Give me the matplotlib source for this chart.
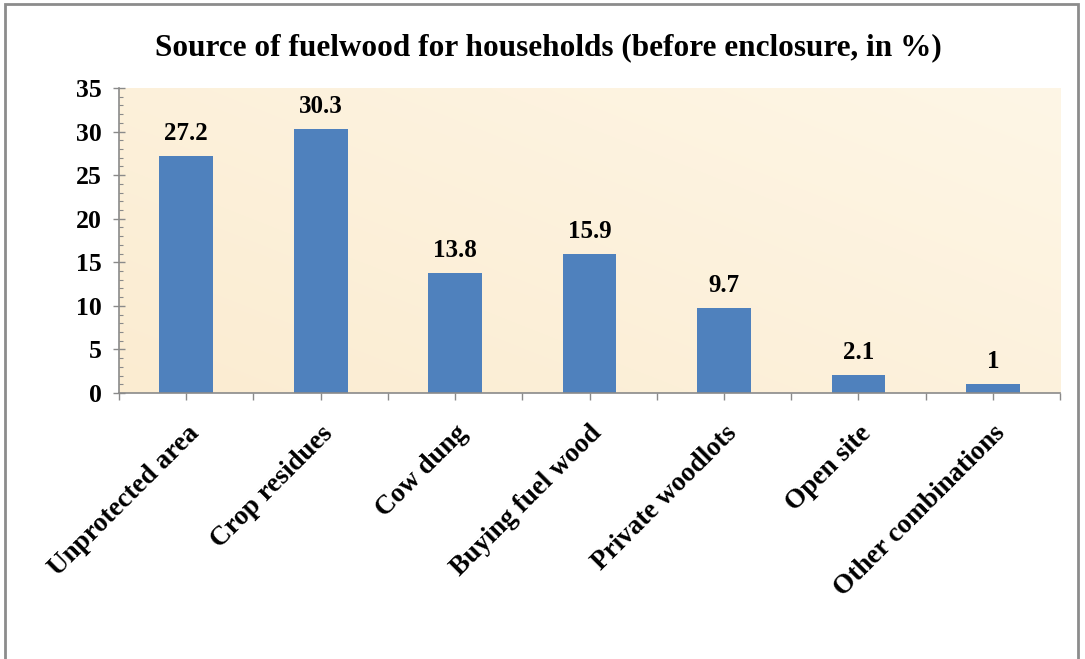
import numpy as np
import matplotlib.pyplot as plt
from matplotlib.patches import Rectangle
from matplotlib.ticker import MultipleLocator

# data
categories = ['Unprotected area', 'Crop residues', 'Cow dung', 'Buying fuel wood',
              'Private woodlots', 'Open site', 'Other combinations']
values = [27.2, 30.3, 13.8, 15.9, 9.7, 2.1, 1]
value_labels = ['27.2', '30.3', '13.8', '15.9', '9.7', '2.1', '1']

plt.rcParams['font.family'] = ['Liberation Serif', 'DejaVu Serif']
plt.rcParams['font.weight'] = 'bold'

fig = plt.figure(figsize=(10.85, 6.59), dpi=100)
ax = fig.add_axes([0.1097, 0.4036, 0.8673, 0.4629])

x = np.arange(len(categories))
ax.set_xlim(-0.5, len(categories) - 0.5)
ax.set_ylim(0, 35)

# beige background of the plot area
gx, gy = np.meshgrid(np.linspace(0, 1, 200), np.linspace(0, 1, 100))
shade = 0.55 * gx + 0.45 * (1 - gy)
c0 = np.array([251, 236, 209]) / 255
c1 = np.array([254, 246, 230]) / 255
grad = c0[None, None, :] * (1 - shade[..., None]) + c1[None, None, :] * shade[..., None]
ax.imshow(grad, extent=[-0.5, len(categories) - 0.5, 0, 35], aspect='auto',
          origin='upper', zorder=0, interpolation='bicubic')

ax.bar(x, values, width=0.4, color='#4F81BD', zorder=2)

for xi, v, lab in zip(x, values, value_labels):
    ax.annotate(lab, (xi, v), xytext=(0, 8), textcoords='offset points',
                ha='center', va='bottom', fontsize=18, fontweight='bold')

for s in ['top', 'right']:
    ax.spines[s].set_visible(False)
for s in ['left', 'bottom']:
    ax.spines[s].set_color('#8a8a8a')
    ax.spines[s].set_linewidth(1.2)

ax.yaxis.set_major_locator(MultipleLocator(5))
ax.yaxis.set_minor_locator(MultipleLocator(1))
ax.tick_params(axis='y', which='major', direction='inout', length=9, width=1,
               color='#8a8a8a', labelsize=18.5, pad=8)
ax.tick_params(axis='y', which='minor', direction='in', length=3, width=0.8,
               color='#8a8a8a')

ax.set_xticks(x)
ax.set_xticks(np.arange(-0.5, len(categories)), minor=True)
ax.set_xticklabels(categories, rotation=45, ha='right', va='top',
                   rotation_mode='anchor', fontsize=19.5, fontweight='bold')
ax.tick_params(axis='x', which='both', direction='out', length=5, width=1,
               color='#8a8a8a', pad=15)

fig.text(0.505, 0.927, 'Source of fuelwood for households (before enclosure, in %)',
         ha='center', va='center', fontsize=22.5, fontweight='bold')

# grey frame around the whole chart
fig.patches.append(Rectangle((5 / 1085, -0.02), 1073 / 1085, 1.02 - 4 / 659,
                             transform=fig.transFigure, fill=False,
                             edgecolor='#8c8c8c', linewidth=2))

fig.savefig('out.png', dpi=100)
